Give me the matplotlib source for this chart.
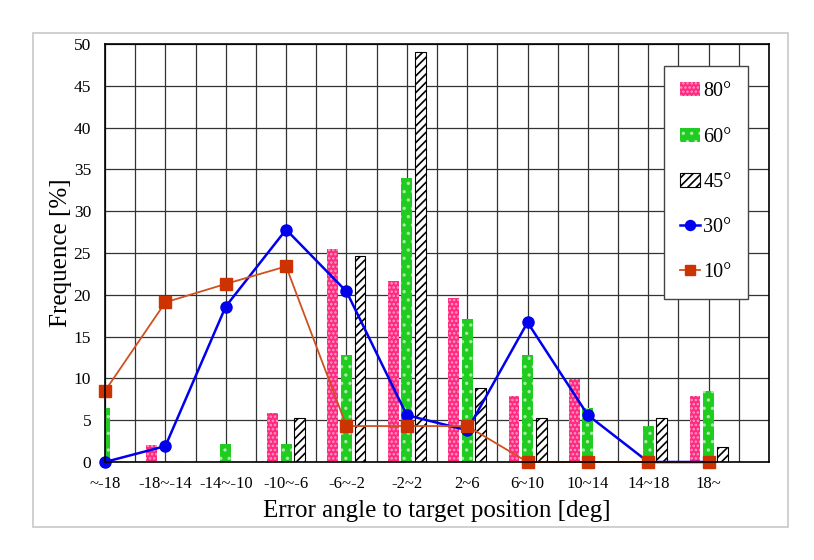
import matplotlib
matplotlib.use("Agg")
import matplotlib.pyplot as plt
import numpy as np
from matplotlib.patches import Rectangle

plt.rcParams['font.family'] = ['Liberation Serif', 'DejaVu Serif']
plt.rcParams['hatch.linewidth'] = 1.2

categories = ['~-18', '-18~-14', '-14~-10', '-10~-6', '-6~-2', '-2~2',
              '2~6', '6~10', '10~14', '14~18', '18~']
deg80 = [0.0, 2.0, 0.0, 5.9, 25.5, 21.6, 19.6, 7.9, 9.9, 0.0, 7.9]
deg60 = [6.5, 0.0, 2.2, 2.2, 12.8, 34.0, 17.1, 12.8, 6.4, 4.3, 8.5]
deg45 = [0.0, 0.0, 0.0, 5.3, 24.6, 49.1, 8.8, 5.3, 0.0, 5.3, 1.8]
deg30 = [0.0, 1.9, 18.6, 27.8, 20.4, 5.6, 3.8, 16.7, 5.6, 0.0, 0.0]
deg10 = [8.5, 19.1, 21.3, 23.4, 4.3, 4.3, 4.3, 0.0, 0.0, 0.0, 0.0]

x = np.arange(len(categories))
w = 0.18
off = 0.225

fig = plt.figure(figsize=(8.14, 5.6), dpi=100)
fig.patches.append(Rectangle((0.0405, 0.059), 0.9275, 0.882, transform=fig.transFigure,
                             fill=False, edgecolor='#c8c8c8', linewidth=1.2))
ax = fig.add_axes([0.129, 0.175, 0.8157, 0.7464])

b80 = ax.bar(x - off, deg80, w, color='#ff2a80', edgecolor='#ff9cc4', linewidth=0,
             hatch='....', label='80°', zorder=3)
b60 = ax.bar(x, deg60, w, color='#1fcc1f', edgecolor='#a8eaa8', linewidth=0,
             hatch='..', label='60°', zorder=3)
b45 = ax.bar(x + off, deg45, w, color='white', edgecolor='black', linewidth=0.8,
             hatch='////', label='45°', zorder=3)
l30, = ax.plot(x, deg30, color='#0000ee', linewidth=1.8, marker='o', markersize=8,
               label='30°', zorder=4, clip_on=False)
l10, = ax.plot(x, deg10, color='#d05020', linewidth=1.3, marker='s', markersize=8,
               markerfacecolor='#cc3300', markeredgecolor='#cc3300',
               label='10°', zorder=5, clip_on=False)

ax.set_xlim(0, 11)
ax.set_ylim(0, 50)
ax.set_xticks(x)
ax.set_xticklabels(categories, fontsize=12)
ax.set_xticks(np.arange(0, 11.01, 0.5), minor=True)
ax.set_yticks(np.arange(0, 51, 5))
ax.tick_params(axis='y', labelsize=12.5, length=0, pad=10)
ax.tick_params(axis='x', which='both', length=0, pad=10)
ax.grid(True, which='both', color='#333333', linewidth=0.9, zorder=0)
ax.set_axisbelow(True)
for s in ax.spines.values():
    s.set_color('black')
    s.set_linewidth(1.2)
    s.set_zorder(6)

ax.set_xlabel('Error angle to target position [deg]', fontsize=18, labelpad=6)
ax.set_ylabel('Frequence [%]', fontsize=18, labelpad=1)

leg = ax.legend([b80, b60, b45, l30, l10], ['80°', '60°', '45°', '30°', '10°'],
                loc='upper right', bbox_to_anchor=(0.968, 0.947), fontsize=14.5,
                frameon=True, fancybox=False, edgecolor='#444444', framealpha=1,
                handlelength=1.0, handletextpad=0.15, labelspacing=1.3,
                borderpad=0.8, borderaxespad=0, markerscale=0.9)
leg.get_frame().set_linewidth(1.0)
leg.set_zorder(7)

fig.savefig('out.png', dpi=100)
